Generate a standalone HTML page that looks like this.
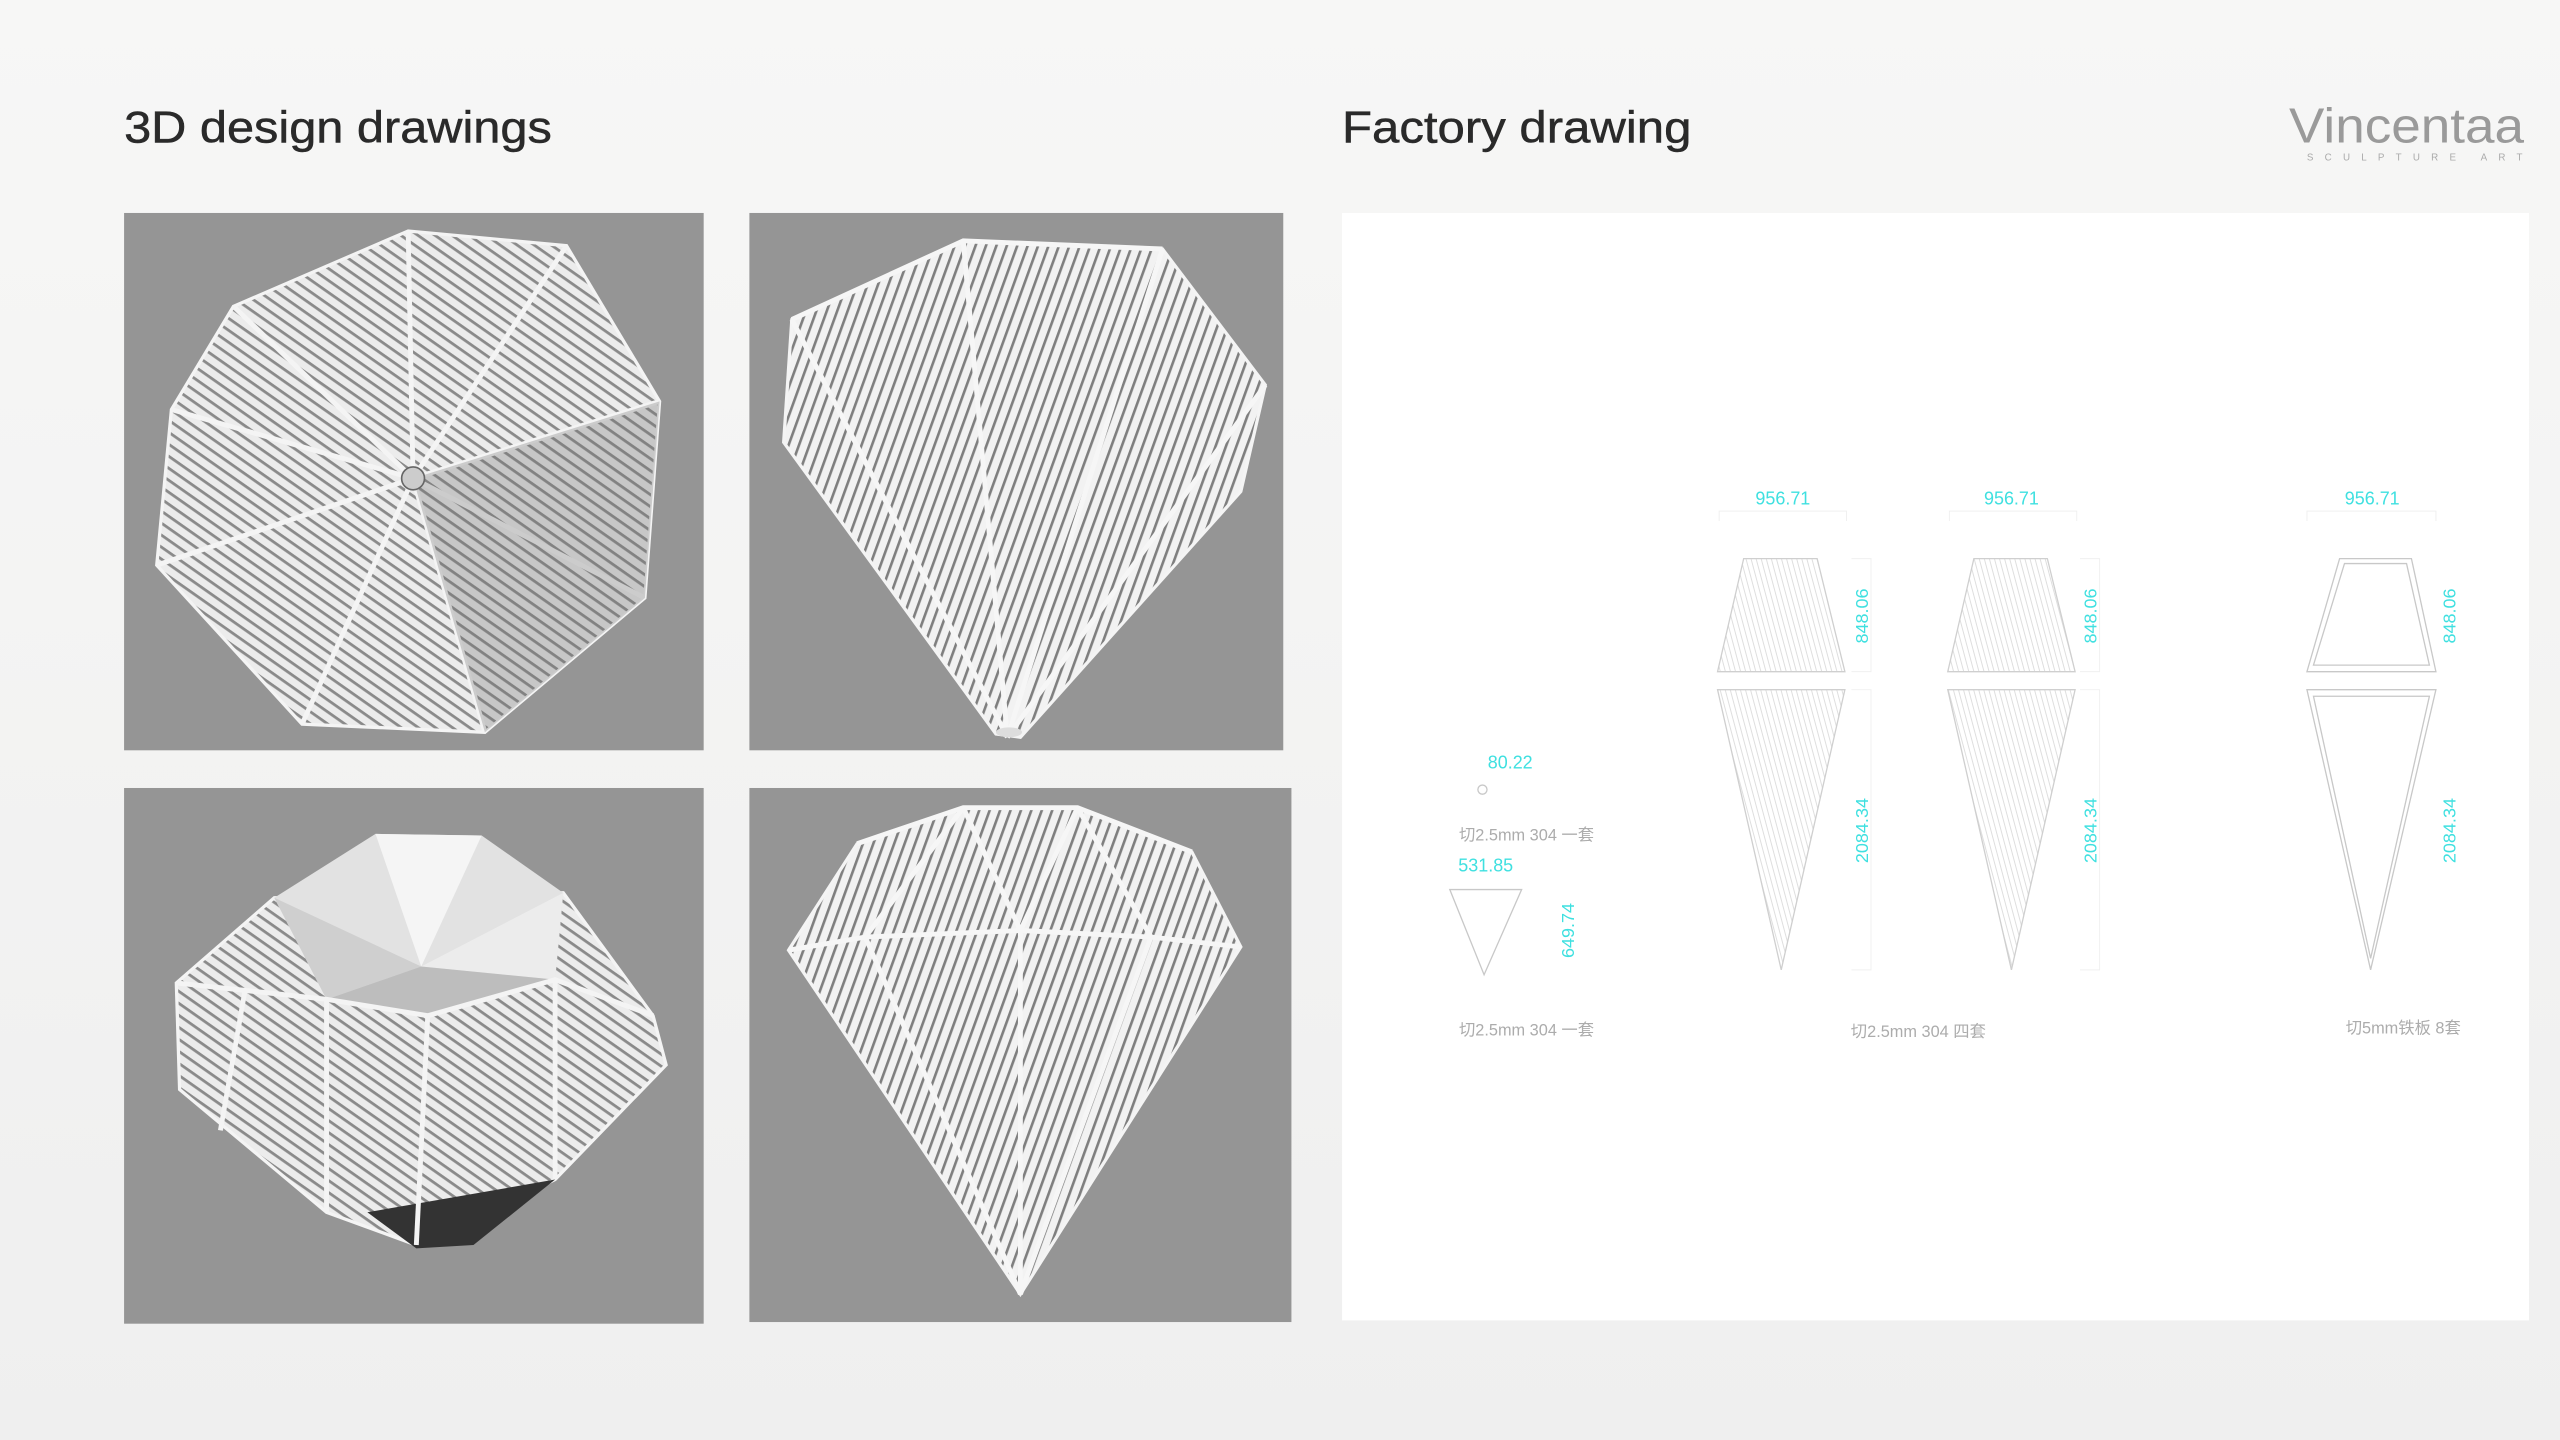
<!DOCTYPE html>
<html><head><meta charset="utf-8"><style>
html,body{margin:0;padding:0;background:#f1f1f1;}
svg{display:block}
</style></head><body>
<svg width="2560" height="1440" viewBox="0 0 1568 879" preserveAspectRatio="none" xmlns="http://www.w3.org/2000/svg">
<defs>
<pattern id="st" width="6" height="6" patternUnits="userSpaceOnUse" patternTransform="rotate(35)">
<rect width="6" height="6" fill="#ececec"/><rect width="6" height="1.7" fill="#8a8a8a"/>
</pattern>
<pattern id="st2" width="6" height="6" patternUnits="userSpaceOnUse" patternTransform="rotate(-70)">
<rect width="6" height="6" fill="#f2f2f2"/><rect width="6" height="1.6" fill="#7f7f7f"/>
</pattern>
<pattern id="fh" width="3" height="3" patternUnits="userSpaceOnUse" patternTransform="rotate(75)">
<rect width="3" height="3" fill="#fff"/><rect width="3" height="0.6" fill="#dedede"/>
</pattern>
<linearGradient id="bg" x1="0" y1="0" x2="0" y2="1"><stop offset="0" stop-color="#f7f7f6"/><stop offset="1" stop-color="#efefef"/></linearGradient>
</defs>
<rect width="1568" height="879" fill="url(#bg)"/>

<text x="76" y="87" font-family="Liberation Sans, sans-serif" font-size="27" fill="#2a2a2a" stroke="#2a2a2a" stroke-width="0.3" textLength="262" lengthAdjust="spacingAndGlyphs">3D design drawings</text>
<text x="822" y="87" font-family="Liberation Sans, sans-serif" font-size="27" fill="#2a2a2a" stroke="#2a2a2a" stroke-width="0.3" textLength="214" lengthAdjust="spacingAndGlyphs">Factory drawing</text>
<text x="1402" y="87" font-family="Liberation Sans, sans-serif" font-size="30" fill="#9a9a9a" textLength="144" lengthAdjust="spacingAndGlyphs">Vincentaa</text>
<text x="1413" y="98" font-family="Liberation Sans, sans-serif" font-size="6" fill="#aaa" textLength="132" lengthAdjust="spacing">SCULPTURE ART</text>

<rect x="76" y="130" width="355" height="328" fill="#959595"/>
<rect x="459" y="130" width="327" height="328" fill="#959595"/>
<rect x="76" y="481" width="355" height="327" fill="#959595"/>
<rect x="459" y="481" width="332" height="326" fill="#959595"/>

<g stroke="#f4f4f4" stroke-width="3">
<polygon points="143,187 250,141 347,150 404,245 395,365 297,447 185,442 96,345 105,250" fill="url(#st)" stroke-width="2"/>
<line x1="253" y1="292" x2="250" y2="141"/><line x1="253" y1="292" x2="347" y2="150"/>
<line x1="253" y1="292" x2="404" y2="245"/><line x1="253" y1="292" x2="395" y2="365"/>
<line x1="253" y1="292" x2="297" y2="447"/><line x1="253" y1="292" x2="185" y2="442"/>
<line x1="253" y1="292" x2="96" y2="345"/><line x1="253" y1="292" x2="105" y2="250"/>
<line x1="253" y1="292" x2="143" y2="187"/>
</g>
<polygon points="253,292 404,245 395,365 297,447" fill="#6f6f6f" opacity="0.3"/>
<circle cx="253" cy="292" r="7" fill="#ccc" stroke="#666"/>

<polygon points="485,195 590,147 712,152 775,235 760,300 625,450 610,448 480,270" fill="url(#st2)" stroke="#f4f4f4" stroke-width="2"/>
<g stroke="#f6f6f6" stroke-width="3" fill="none">
<polyline points="485,195 590,147 712,152"/>
<line x1="590" y1="147" x2="617" y2="450"/>
<line x1="712" y1="152" x2="617" y2="450"/>
<line x1="485" y1="195" x2="617" y2="450"/>
<line x1="775" y1="235" x2="617" y2="450"/>
</g>
<ellipse cx="618" cy="447" rx="8" ry="3" fill="#ddd"/>

<polygon points="108,600 168,548 345,545 400,620 408,650 340,720 255,760 200,740 110,665" fill="url(#st)" stroke="#f4f4f4" stroke-width="2"/>
<polygon points="225,740 340,720 290,760 255,762" fill="#333"/>
<polygon points="168,548 230,509 295,510 345,545 340,598 262,620 200,610" fill="#e2e2e2"/>
<polygon points="258,590 230,509 295,510" fill="#f5f5f5"/>
<polygon points="258,590 168,548 200,610" fill="#cfcfcf"/>
<polygon points="258,590 345,545 340,598" fill="#ececec"/>
<polygon points="258,590 200,610 262,620 340,598" fill="#bdbdbd"/>
<g stroke="#f4f4f4" stroke-width="3" fill="none">
<polyline points="108,600 200,610 262,620 340,598 400,620"/>
<line x1="200" y1="610" x2="200" y2="740"/><line x1="262" y1="620" x2="255" y2="760"/>
<line x1="340" y1="598" x2="340" y2="720"/><line x1="150" y1="605" x2="135" y2="690"/>
</g>

<polygon points="483,580 525,515 590,493 660,493 730,520 760,578 625,790" fill="url(#st2)" stroke="#f4f4f4" stroke-width="2"/>
<g stroke="#f6f6f6" stroke-width="3" fill="none">
<polyline points="483,580 530,572 625,568 705,572 760,578"/>
<polyline points="525,515 590,493 660,493 730,520"/>
<line x1="530" y1="572" x2="625" y2="790"/><line x1="625" y1="568" x2="625" y2="790"/>
<line x1="705" y1="572" x2="625" y2="790"/>
<line x1="590" y1="493" x2="530" y2="572"/><line x1="660" y1="493" x2="705" y2="572"/>
<line x1="590" y1="493" x2="625" y2="568"/><line x1="660" y1="493" x2="625" y2="568"/>
</g>

<rect x="822" y="130" width="727" height="676" fill="#ffffff"/>
<g font-family="Liberation Sans, sans-serif" font-size="11" fill="#3fe0e0">
<text x="1092" y="308" text-anchor="middle">956.71</text>
<text x="1232" y="308" text-anchor="middle">956.71</text>
<text x="1453" y="308" text-anchor="middle">956.71</text>
<text x="925" y="469" text-anchor="middle">80.22</text>
<text x="910" y="532" text-anchor="middle">531.85</text>
<text transform="translate(1144,376) rotate(-90)" text-anchor="middle">848.06</text>
<text transform="translate(1284,376) rotate(-90)" text-anchor="middle">848.06</text>
<text transform="translate(1504,376) rotate(-90)" text-anchor="middle">848.06</text>
<text transform="translate(1144,507) rotate(-90)" text-anchor="middle">2084.34</text>
<text transform="translate(1284,507) rotate(-90)" text-anchor="middle">2084.34</text>
<text transform="translate(1504,507) rotate(-90)" text-anchor="middle">2084.34</text>
<text transform="translate(964,568) rotate(-90)" text-anchor="middle">649.74</text>
</g>
<g stroke="#f0f0f0" stroke-width="0.6" fill="none">
<polyline points="1053,318 1053,312 1131,312 1131,318"/>
<polyline points="1194,318 1194,312 1272,312 1272,318"/>
<polyline points="1413,318 1413,312 1492,312 1492,318"/>
<polyline points="1134,341 1146,341 1146,410 1134,410"/>
<polyline points="1134,421 1146,421 1146,592 1134,592"/>
<polyline points="1274,341 1286,341 1286,410 1274,410"/>
<polyline points="1274,421 1286,421 1286,592 1274,592"/>
</g>
<g stroke="#cfcfcf" stroke-width="0.8" fill="url(#fh)">
<polygon points="1068,341 1113,341 1130,410 1052,410"/>
<polygon points="1052,421 1130,421 1091,592"/>
<polygon points="1209,341 1254,341 1271,410 1193,410"/>
<polygon points="1193,421 1271,421 1232,592"/>
</g>
<g stroke="#c8c8c8" stroke-width="0.8" fill="none">
<polygon points="1433,341 1477,341 1492,410 1413,410"/>
<polygon points="1436,344 1474,344 1488,406 1417,406"/>
<polygon points="1413,421 1492,421 1452,592"/>
<polygon points="1417,425 1488,425 1452,585"/>
<polygon points="888,543 932,543 909,595"/>
<circle cx="908" cy="482" r="2.8"/>
</g>
<g font-family="Liberation Sans, 'Noto Sans CJK SC', sans-serif" font-size="10" fill="#acacac" text-anchor="middle">
<text x="935" y="513">切2.5mm 304 一套</text>
<text x="935" y="632">切2.5mm 304 一套</text>
<text x="1175" y="633">切2.5mm 304 四套</text>
<text x="1472" y="631">切5mm铁板 8套</text>
</g>
</svg>
</body></html>
